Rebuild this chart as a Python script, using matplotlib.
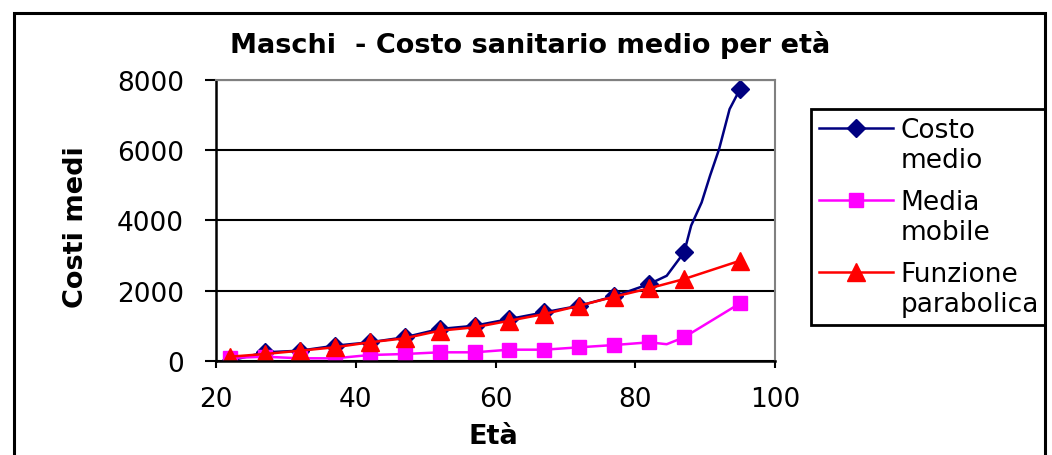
import matplotlib
matplotlib.use("Agg")
import matplotlib.pyplot as plt
from matplotlib.patches import Rectangle

# eta' con costo medio osservato (i punti marcati) piu' qualche punto della curva
eta_costo = [22, 27, 32, 37, 42, 47, 52, 57, 62, 67, 72, 77, 82, 84.5, 87,
             88, 89.5, 90.7, 92, 93.5, 94.5, 95]
costo_medio = [0, 239, 285, 427, 524, 667, 903, 997, 1188, 1379, 1567, 1835, 2186, 2420, 3090,
               3850, 4510, 5270, 6030, 7170, 7550, 7745]
marcati_costo = [0, 1, 2, 3, 4, 5, 6, 7, 8, 9, 10, 11, 12, 14, 21]

eta_media = [22, 27, 32, 37, 42, 47, 52, 57, 62, 67, 72, 77, 82, 84.5, 87, 95]
media_mobile = [77, 114, 68, 68, 162, 191, 239, 239, 314, 314, 382, 447, 524, 470, 667, 1636]
marcati_media = [0, 1, 2, 3, 4, 5, 6, 7, 8, 9, 10, 11, 12, 14, 15]

eta_funz = [22, 27, 32, 37, 42, 47, 52, 57, 62, 67, 72, 77, 82, 87, 95]
funzione_parabolica = [114, 191, 285, 382, 524, 638, 855, 951, 1140, 1331, 1567, 1824, 2063, 2328, 2850]

x_ticks = [20, 40, 60, 80, 100]
y_ticks = [0, 2000, 4000, 6000, 8000]

W, H = 1052, 456
fig = plt.figure(figsize=(W / 100, H / 100), dpi=100)
ax = fig.add_axes([216 / W, (H - 361.7) / H, (775 - 216) / W, (361.7 - 81) / H])

ax.plot(eta_costo, costo_medio, color="#000080", lw=1.8, marker="D", ms=9.5,
        markevery=marcati_costo, label="Costo\nmedio")
ax.plot(eta_media, media_mobile, color="#FF00FF", lw=1.8, marker="s", ms=10.5,
        markevery=marcati_media, label="Media\nmobile")
ax.plot(eta_funz, funzione_parabolica, color="#FF0000", lw=1.8, marker="^", ms=12.5,
        label="Funzione\nparabolica")

ax.set_xlim(20, 100)
ax.set_ylim(0, 8000)
ax.set_xticks(x_ticks)
ax.set_yticks(y_ticks)
ax.tick_params(axis="y", direction="out", length=8, width=1.5, pad=15, labelsize=19)
ax.tick_params(axis="x", direction="out", length=5, width=1.5, pad=13.5, labelsize=19)

ax.yaxis.grid(True, color="black", lw=1.5)
ax.set_axisbelow(True)
for side in ["left", "bottom"]:
    ax.spines[side].set_color("black")
    ax.spines[side].set_linewidth(1.8)
for side in ["top", "right"]:
    ax.spines[side].set_color("#808080")
    ax.spines[side].set_linewidth(1.5)

ax.set_xlabel("Età", fontsize=19.5, fontweight="bold")
ax.xaxis.set_label_coords(0.497, -0.222)
ax.set_ylabel("Costi medi", fontsize=19.5, fontweight="bold")
ax.yaxis.set_label_coords(-0.228, 0.48)

fig.text(530 / W, 1 - 53 / H, "Maschi  - Costo sanitario medio per età",
         fontsize=19.5, fontweight="bold", ha="center", va="baseline")

handles, labels = ax.get_legend_handles_labels()
leg = fig.legend(handles, labels, loc="upper left", bbox_to_anchor=(811 / W, 1 - 110 / H),
                 frameon=True, fancybox=False, edgecolor="black", framealpha=1,
                 prop={"size": 19}, borderpad=0.3, handlelength=2.8, handleheight=1.2,
                 handletextpad=0.3, labelspacing=0.6, borderaxespad=0)
leg.get_frame().set_linewidth(2)
# marker in legenda allineato alla prima riga dell'etichetta
for col in leg._legend_handle_box.get_children():
    for row in col.get_children():
        row.align = "top"

# cornice esterna del grafico
fig.add_artist(Rectangle((1046 / W, 0), 6 / W, 1, transform=fig.transFigure,
                         facecolor="white", edgecolor="none", zorder=10))
fig.add_artist(Rectangle((14 / W, -0.1), (1045 - 14) / W, 1.1 - 14 / H,
                         transform=fig.transFigure, fill=False, edgecolor="black",
                         lw=2.2, zorder=11))

fig.savefig("out.png", dpi=100)
